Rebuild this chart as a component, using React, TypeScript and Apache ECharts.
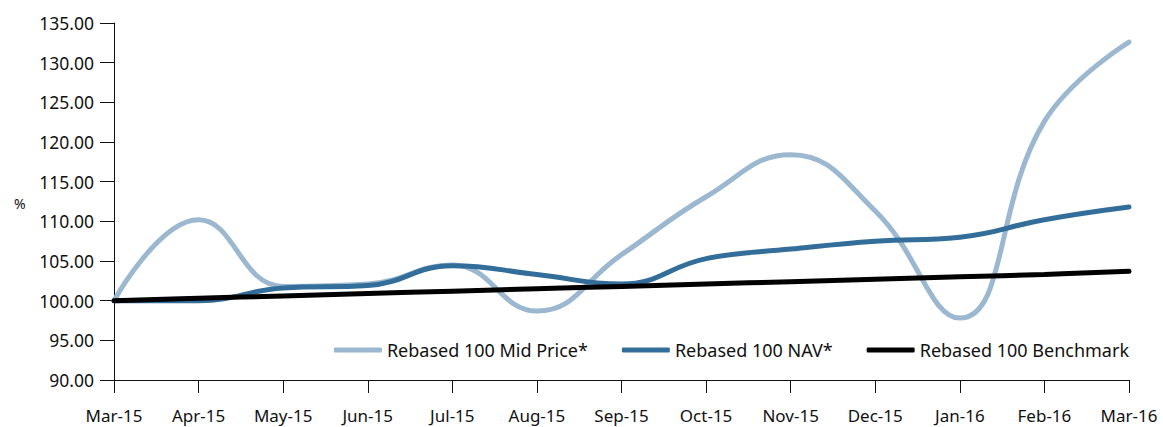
import React, { useEffect, useRef } from "react";
import * as echarts from "echarts";

const categories = ["Mar-15", "Apr-15", "May-15", "Jun-15", "Jul-15", "Aug-15", "Sep-15", "Oct-15", "Nov-15", "Dec-15", "Jan-16", "Feb-16", "Mar-16"];
const midPrice = [100.0, 110.2, 101.8, 102.1, 104.5, 98.7, 105.8, 113.1, 118.4, 111.3, 97.8, 122.6, 132.6];
const nav = [100.0, 100.0, 101.6, 101.9, 104.4, 103.3, 102.1, 105.3, 106.5, 107.5, 108.0, 110.2, 111.8];
const benchmark = [100.0, 100.3, 100.6, 100.9, 101.2, 101.5, 101.8, 102.1, 102.4, 102.7, 103.0, 103.3, 103.7];
const seriesNames = ["Rebased 100 Mid Price*", "Rebased 100 NAV*", "Rebased 100 Benchmark"];

const FONT = "Noto Sans";

export default function App() {
  const ref = useRef<HTMLDivElement>(null);
  useEffect(() => {
    if (!ref.current) return;
    const chart = echarts.init(ref.current, null, { renderer: "svg" });
    const mk = (name: string, data: number[], color: string, z: number) => ({
      name,
      type: "line",
      data,
      smooth: 0.45,
      symbol: "none",
      showSymbol: false,
      z,
      lineStyle: { color, width: 5, cap: "round" },
      itemStyle: { color },
    });
    chart.setOption({
      animation: false,
      backgroundColor: "#fff",
      textStyle: { fontFamily: FONT },
      grid: { left: 114, right: 34, top: 23, bottom: 47, containLabel: false },
      legend: {
        right: 29,
        top: 336,
        icon: "roundRect",
        itemWidth: 48,
        itemHeight: 5,
        itemGap: 34,
        textStyle: { fontFamily: FONT, fontSize: 18, color: "#111" },
        data: seriesNames,
      },
      graphic: [
        { type: "text", left: 14, top: 196, style: { text: "%", fontFamily: FONT, fontSize: 14, fill: "#111" } },
      ],
      xAxis: {
        type: "category",
        data: categories,
        boundaryGap: false,
        axisLine: { lineStyle: { color: "#111", width: 1 } },
        axisTick: { show: true, length: 13, inside: false, alignWithLabel: true, lineStyle: { color: "#111" } },
        axisLabel: { margin: 27, fontFamily: FONT, fontSize: 17, color: "#111", interval: 0 },
        splitLine: { show: false },
      },
      yAxis: {
        type: "value",
        min: 90,
        max: 135,
        interval: 5,
        axisLine: { show: true, lineStyle: { color: "#111", width: 1 } },
        axisTick: { show: true, length: 14, lineStyle: { color: "#111" } },
        axisLabel: { margin: 20, fontFamily: FONT, fontSize: 17.5, color: "#111", formatter: (v: number) => v.toFixed(2) },
        splitLine: { show: false },
      },
      series: [
        mk(seriesNames[0], midPrice, "#9bb8d0", 1),
        mk(seriesNames[1], nav, "#336e9a", 2),
        mk(seriesNames[2], benchmark, "#000000", 3),
      ],
    });
    return () => chart.dispose();
  }, []);
  return <div ref={ref} style={{ position: "fixed", left: 0, top: 0, width: 1163, height: 427 }} />;
}
